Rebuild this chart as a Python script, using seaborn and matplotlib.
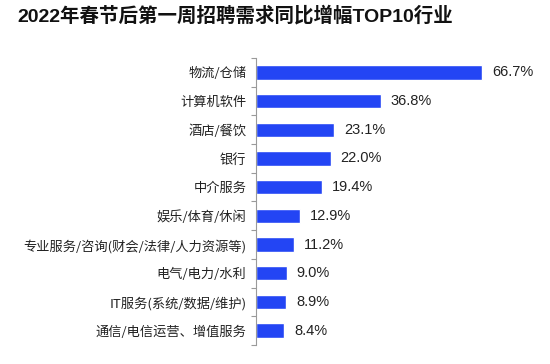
import matplotlib
matplotlib.use("Agg")
import matplotlib.pyplot as plt
import seaborn as sns
import pandas as pd
import numpy as np

title = "2022年春节后第一周招聘需求同比增幅TOP10行业"
categories = ["物流/仓储", "计算机软件", "酒店/餐饮", "银行", "中介服务",
              "娱乐/体育/休闲", "专业服务/咨询(财会/法律/人力资源等)",
              "电气/电力/水利", "IT服务(系统/数据/维护)", "通信/电信运营、增值服务"]
values = [66.7, 36.8, 23.1, 22.0, 19.4, 12.9, 11.2, 9.0, 8.9, 8.4]
value_labels = ["66.7%", "36.8%", "23.1%", "22.0%", "19.4%", "12.9%", "11.2%", "9.0%", "8.9%", "8.4%"]

sns.set_style("white")
plt.rcParams['font.family'] = ['Noto Sans CJK SC', 'DejaVu Sans']

df = pd.DataFrame({"industry": categories, "value": values})

fig = plt.figure(figsize=(5.5, 3.64), dpi=100)
ax = fig.add_axes([256/550, 19/364, 294/550, 287/364])
sns.barplot(data=df, x="value", y="industry", orient="h", color="#2345F4",
            width=0.5, saturation=1, ax=ax)

ax.set_xlim(0, 294/3.39)
ax.set_ylim(len(categories) - 0.5, -0.5)
ax.set_xlabel("")
ax.set_ylabel("")
ax.set_xticks([])
for s in ["top", "right", "bottom"]:
    ax.spines[s].set_visible(False)
ax.spines["left"].set_color("#9a9a9a")
ax.spines["left"].set_linewidth(0.8)

ax.set_yticks(np.arange(len(categories)))
ax.set_yticklabels(categories, fontsize=9.5, color="#222222")
ax.set_yticks(np.arange(len(categories) + 1) - 0.5, minor=True)
ax.tick_params(axis="y", which="major", length=0, pad=7)
ax.tick_params(axis="y", which="minor", length=3.5, color="#9a9a9a", width=0.8, left=True)

for i, (v, lab) in enumerate(zip(values, value_labels)):
    ax.annotate(lab, xy=(v, i), xytext=(7, 0), textcoords="offset points",
                va="center", ha="left", fontsize=10.5, color="#222222",
                family=['Liberation Sans', 'Noto Sans CJK SC'])

fig.text(17/550, 1 - 16/364, title, fontsize=14, fontweight="bold",
         color="#111111", va="center", ha="left",
         family=['Liberation Sans', 'Noto Sans CJK SC'])

fig.savefig("out.png", dpi=100)
